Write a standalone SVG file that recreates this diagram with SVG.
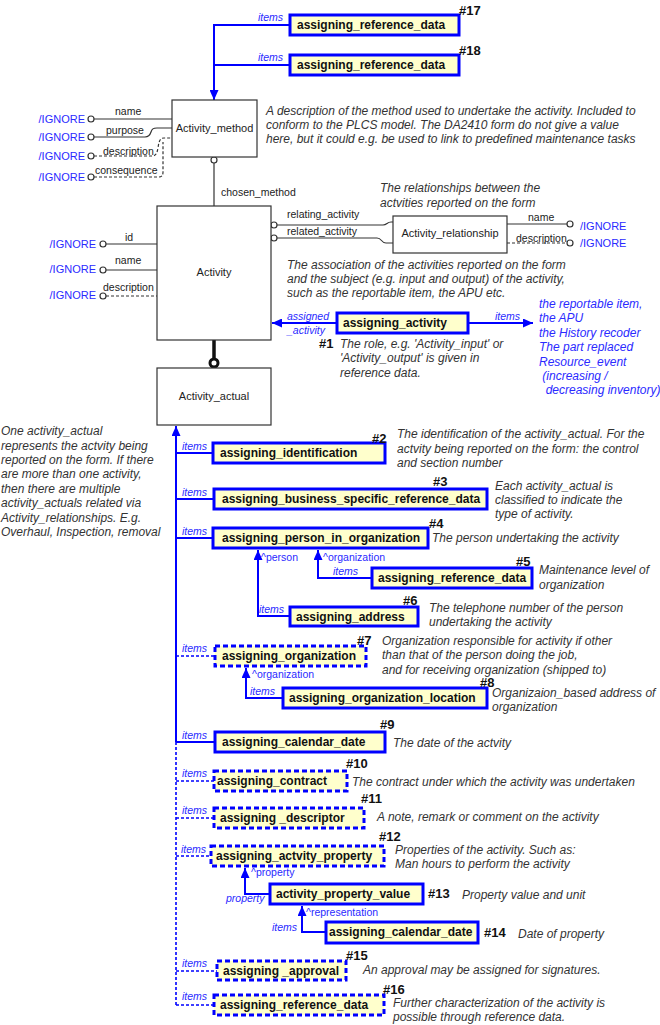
<svg xmlns="http://www.w3.org/2000/svg" width="660" height="1025" viewBox="0 0 660 1025">
<style>
text{font-family:"Liberation Sans",Arial,sans-serif}
.ent{fill:#fff;stroke:#333;stroke-width:1.2}
.en{font-size:11px;fill:#222;text-anchor:middle}
.at{fill:none;stroke:#333;stroke-width:1.2}
.atd{fill:none;stroke:#333;stroke-width:1.2;stroke-dasharray:3 2}
.ci{fill:#fff;stroke:#333;stroke-width:1.2}
.rl{font-size:10.5px;fill:#222}
.ig{font-size:11px;fill:#2a2aff}
.bx{fill:#ffffcc;stroke:#0000ff;stroke-width:3}
.bxd{fill:#ffffcc;stroke:#0000ff;stroke-width:3;stroke-dasharray:5 3}
.bt{font-size:12px;font-weight:bold;fill:#111}
.hn{font-size:13px;font-weight:bold;fill:#111}
.nt{font-size:12px;font-style:italic;fill:#333}
.bl{fill:none;stroke:#0000ff;stroke-width:2}
.bld{fill:none;stroke:#0000ff;stroke-width:1.6;stroke-dasharray:3 2}
.it{font-size:10.5px;font-style:italic;fill:#2a2aff}
.up{font-size:10.5px;fill:#2a2aff}
.bn{font-size:12px;font-style:italic;fill:#2a2aff}
</style>
<defs>
<marker id="arr" markerUnits="userSpaceOnUse" markerWidth="10" markerHeight="9" refX="10" refY="4.5" orient="auto"><path d="M0,0 L10,4.5 L0,9 z" fill="#0000ff"/></marker>
</defs>

<g id="connectors">
<path class="bl" d="M290,25 H214 V100" marker-end="url(#arr)"/>
<path class="bl" d="M290,65 H214"/>
<path class="at" d="M94,119 H172"/>
<path class="at" d="M94,137 H145 C149,137 150,135 151,132 C152,129 153,128 157,128 H172"/>
<path class="atd" d="M94,156 H152 C156,156 157,153 158,148 C159,141 160,138 164,138 H172"/>
<path class="atd" d="M94,177 H159 C162,177 163,175 163,172 V142"/>
<circle class="ci" cx="91" cy="119" r="3"/>
<circle class="ci" cx="91" cy="137" r="3"/>
<circle class="ci" cx="91" cy="156" r="3"/>
<circle class="ci" cx="91" cy="177" r="3"/>
<path class="at" d="M214,163 V206"/>
<circle class="ci" cx="214" cy="160" r="3"/>
<path class="at" d="M106,244 H157"/>
<path class="at" d="M106,270 H157"/>
<path class="atd" d="M106,296 H157"/>
<circle class="ci" cx="103" cy="244" r="3"/>
<circle class="ci" cx="103" cy="270" r="3"/>
<circle class="ci" cx="103" cy="296" r="3"/>
<path class="at" d="M277,225 H383 C387,225 387,222 391,222 H393"/>
<path class="at" d="M277,238 H377 C382,238 381,243 386,243 H393"/>
<circle class="ci" cx="274" cy="225" r="3"/>
<circle class="ci" cx="274" cy="238" r="3"/>
<path class="at" d="M507,224 H567"/>
<path class="atd" d="M507,243 H567"/>
<circle class="ci" cx="570" cy="224" r="3"/>
<circle class="ci" cx="570" cy="243" r="3"/>
<path d="M214,340 V359" fill="none" stroke="#111" stroke-width="3.5"/>
<circle cx="214" cy="363" r="4" fill="#fff" stroke="#111" stroke-width="3"/>
<path class="bl" d="M337,323 H272" marker-end="url(#arr)"/>
<path class="bl" d="M468,323 H533" marker-end="url(#arr)"/>
<path class="bl" d="M176,742 V426" marker-end="url(#arr)"/>
<path class="bld" d="M176,1005 V742"/>
<path class="bl" d="M176,453 H213"/>
<path class="bl" d="M176,499 H214"/>
<path class="bl" d="M176,538 H213"/>
<path class="bld" d="M176,656 H215"/>
<path class="bl" d="M176,742 H215"/>
<path class="bld" d="M176,781 H214"/>
<path class="bld" d="M176,818 H214"/>
<path class="bld" d="M176,856 H211"/>
<path class="bld" d="M176,971 H217"/>
<path class="bld" d="M176,1005 H214"/>
<path class="bl" d="M372,578 H318 V550" marker-end="url(#arr)"/>
<path class="bl" d="M290,616 H258 V550" marker-end="url(#arr)"/>
<path class="bl" d="M283,698 H246 V668" marker-end="url(#arr)"/>
<path class="bl" d="M270,894 H245 V868" marker-end="url(#arr)"/>
<path class="bl" d="M326,932 H302 V906" marker-end="url(#arr)"/>
<text class="it" x="258" y="21">items</text>
<text class="it" x="258" y="61">items</text>
<text class="rl" x="115" y="115">name</text>
<text class="rl" x="106" y="134">purpose</text>
<text class="rl" x="103" y="155">description</text>
<text class="rl" x="95" y="174">consequence</text>
<text class="ig" x="85" y="123" text-anchor="end">/IGNORE</text>
<text class="ig" x="85" y="141" text-anchor="end">/IGNORE</text>
<text class="ig" x="85" y="160" text-anchor="end">/IGNORE</text>
<text class="ig" x="85" y="181" text-anchor="end">/IGNORE</text>
<text class="rl" x="221" y="196">chosen_method</text>
<text class="rl" x="125" y="241">id</text>
<text class="rl" x="115" y="264">name</text>
<text class="rl" x="103" y="291">description</text>
<text class="ig" x="96" y="248" text-anchor="end">/IGNORE</text>
<text class="ig" x="96" y="273" text-anchor="end">/IGNORE</text>
<text class="ig" x="96" y="299" text-anchor="end">/IGNORE</text>
<text class="rl" x="287" y="218">relating_activity</text>
<text class="rl" x="287" y="235">related_activity</text>
<text class="rl" x="528" y="221">name</text>
<text class="rl" x="516" y="242">description</text>
<text class="ig" x="580" y="230">/IGNORE</text>
<text class="ig" x="580" y="247">/IGNORE</text>
<text class="it" x="287" y="320">assigned</text>
<text class="it" x="287" y="334">_activity</text>
<text class="it" x="495" y="320">items</text>
<text class="it" x="182" y="450">items</text>
<text class="it" x="182" y="496">items</text>
<text class="it" x="182" y="535">items</text>
<text class="it" x="182" y="652">items</text>
<text class="it" x="182" y="739">items</text>
<text class="it" x="182" y="777">items</text>
<text class="it" x="182" y="814">items</text>
<text class="it" x="181" y="853">items</text>
<text class="it" x="182" y="967">items</text>
<text class="it" x="182" y="1000">items</text>
<text class="up" x="323" y="561">^organization</text>
<text class="it" x="333" y="575">items</text>
<text class="up" x="261" y="561">^person</text>
<text class="it" x="259" y="613">items</text>
<text class="up" x="252" y="678">^organization</text>
<text class="it" x="250" y="695">items</text>
<text class="up" x="251" y="876">^property</text>
<text class="it" x="226" y="902">property</text>
<text class="up" x="306" y="916">^representation</text>
<text class="it" x="272" y="931">items</text>
</g>

<g id="Activity_method">
<rect class="ent" x="172" y="100" width="85" height="57"/>
<text class="en" x="214.5" y="132">Activity_method</text>
</g>
<g id="Activity">
<rect class="ent" x="157" y="206" width="114" height="134"/>
<text class="en" x="214" y="276">Activity</text>
</g>
<g id="Activity_relationship">
<rect class="ent" x="393" y="216" width="114" height="37"/>
<text class="en" x="450" y="237">Activity_relationship</text>
</g>
<g id="Activity_actual">
<rect class="ent" x="157" y="368" width="114" height="57"/>
<text class="en" x="214" y="400">Activity_actual</text>
</g>

<g id="n17">
<rect class="bx" x="290" y="15" width="169" height="20"/>
<text class="bt" x="297" y="29">assigning_reference_data</text>
<text class="hn" x="459" y="15">#17</text>
</g>
<g id="n18">
<rect class="bx" x="290" y="55" width="169" height="20"/>
<text class="bt" x="297" y="69">assigning_reference_data</text>
<text class="hn" x="459" y="55">#18</text>
</g>
<g id="n1">
<rect class="bx" x="337" y="313" width="131" height="20"/>
<text class="bt" x="343" y="327">assigning_activity</text>
<text class="hn" x="319" y="348">#1</text>
</g>
<g id="n2">
<rect class="bx" x="213" y="443" width="172" height="20"/>
<text class="bt" x="220" y="457">assigning_identification</text>
<text class="hn" x="372" y="443">#2</text>
</g>
<g id="n3">
<rect class="bx" x="214" y="489" width="273" height="20"/>
<text class="bt" x="222" y="503">assigning_business_specific_reference_data</text>
<text class="hn" x="433" y="486">#3</text>
</g>
<g id="n4">
<rect class="bx" x="213" y="528" width="215" height="20"/>
<text class="bt" x="222" y="542">assigning_person_in_organization</text>
<text class="hn" x="429" y="528">#4</text>
</g>
<g id="n5">
<rect class="bx" x="372" y="568" width="160" height="20"/>
<text class="bt" x="378" y="582">assigning_reference_data</text>
<text class="hn" x="516" y="566">#5</text>
</g>
<g id="n6">
<rect class="bx" x="290" y="607" width="128" height="19"/>
<text class="bt" x="296" y="621">assigning_address</text>
<text class="hn" x="403" y="605">#6</text>
</g>
<g id="n7">
<rect class="bxd" x="215" y="646" width="151" height="20"/>
<text class="bt" x="222" y="660">assigning_organization</text>
<text class="hn" x="357" y="645">#7</text>
</g>
<g id="n8">
<rect class="bx" x="283" y="688" width="204" height="20"/>
<text class="bt" x="289" y="702">assigning_organization_location</text>
<text class="hn" x="480" y="687">#8</text>
</g>
<g id="n9">
<rect class="bx" x="215" y="732" width="170" height="20"/>
<text class="bt" x="222" y="746">assigning_calendar_date</text>
<text class="hn" x="380" y="729">#9</text>
</g>
<g id="n10">
<rect class="bxd" x="214" y="771" width="133" height="20"/>
<text class="bt" x="217" y="785">assigning_contract</text>
<text class="hn" x="346" y="768">#10</text>
</g>
<g id="n11">
<rect class="bxd" x="214" y="808" width="150" height="20"/>
<text class="bt" x="220" y="822">assigning _descriptor</text>
<text class="hn" x="361" y="803">#11</text>
</g>
<g id="n12">
<rect class="bxd" x="211" y="846" width="173" height="20"/>
<text class="bt" x="216" y="860">assigning_actvity_property</text>
<text class="hn" x="379" y="841">#12</text>
</g>
<g id="n13">
<rect class="bx" x="270" y="884" width="153" height="20"/>
<text class="bt" x="276" y="898">activity_property_value</text>
<text class="hn" x="428" y="898">#13</text>
</g>
<g id="n14">
<rect class="bx" x="326" y="922" width="152" height="21"/>
<text class="bt" x="329" y="936">assigning_calendar_date</text>
<text class="hn" x="484" y="937">#14</text>
</g>
<g id="n15">
<rect class="bxd" x="217" y="961" width="129" height="19"/>
<text class="bt" x="223" y="975">assigning _approval</text>
<text class="hn" x="346" y="960">#15</text>
</g>
<g id="n16">
<rect class="bxd" x="214" y="995" width="170" height="20"/>
<text class="bt" x="220" y="1009">assigning_reference_data</text>
<text class="hn" x="383" y="994">#16</text>
</g>

<g id="notes">
<text class="nt" x="266" y="115">A description of the method used to undertake the activity. Included to</text>
<text class="nt" x="266" y="129">conform to the PLCS model. The DA2410 form do not give a value</text>
<text class="nt" x="266" y="143">here, but it could e.g. be used to link to predefined maintenance tasks</text>
<text class="nt" x="380" y="192">The relationships between the</text>
<text class="nt" x="380" y="207">actvities reported on the form</text>
<text class="nt" x="287" y="269">The association of the activities reported on the form</text>
<text class="nt" x="287" y="283">and the subject (e.g. input and output) of the activity,</text>
<text class="nt" x="287" y="297">such as the reportable item, the APU etc.</text>
<text class="nt" x="340" y="348">The role, e.g. 'Activity_input' or</text>
<text class="nt" x="340" y="362">'Activity_output' is given in</text>
<text class="nt" x="340" y="377">reference data.</text>
<text class="bn" x="539" y="308">the reportable item,</text>
<text class="bn" x="539" y="322">the APU</text>
<text class="bn" x="539" y="337">the History recoder</text>
<text class="bn" x="539" y="351">The part replaced</text>
<text class="bn" x="539" y="366">Resource_event</text>
<text class="bn" x="539" y="380" xml:space="preserve"> (increasing /</text>
<text class="bn" x="539" y="394" xml:space="preserve">  decreasing inventory)</text>
<text class="nt" x="1" y="435">One activity_actual</text>
<text class="nt" x="1" y="449.5">represents the actvity being</text>
<text class="nt" x="1" y="464">reported on the form. If there</text>
<text class="nt" x="1" y="478">are more than one activity,</text>
<text class="nt" x="1" y="492.5">then there are multiple</text>
<text class="nt" x="1" y="507">activity_actuals related via</text>
<text class="nt" x="1" y="521.5">Activity_relationships. E.g.</text>
<text class="nt" x="1" y="536">Overhaul, Inspection, removal</text>
<text class="nt" x="397" y="438">The identification of the activity_actual. For the</text>
<text class="nt" x="397" y="453">actvity being reported on the form: the control</text>
<text class="nt" x="397" y="467">and section number</text>
<text class="nt" x="495" y="490">Each activity_actual is</text>
<text class="nt" x="495" y="504">classified to indicate the</text>
<text class="nt" x="495" y="518">type of activity.</text>
<text class="nt" x="432" y="542">The person undertaking the activity</text>
<text class="nt" x="539" y="574">Maintenance level of</text>
<text class="nt" x="539" y="589">organization</text>
<text class="nt" x="429" y="612">The telephone number of the person</text>
<text class="nt" x="429" y="626">undertaking the activity</text>
<text class="nt" x="382" y="645">Organization responsible for activity if other</text>
<text class="nt" x="382" y="659">than that of the person doing the job,</text>
<text class="nt" x="382" y="674">and for receiving organization (shipped to)</text>
<text class="nt" x="492" y="697">Organizaion_based address of</text>
<text class="nt" x="492" y="711">organization</text>
<text class="nt" x="393" y="747">The date of the actvity</text>
<text class="nt" x="352" y="786">The contract under which the activity was undertaken</text>
<text class="nt" x="377" y="821">A note, remark or comment on the activity</text>
<text class="nt" x="395" y="854">Properties of the activity. Such as:</text>
<text class="nt" x="395" y="868">Man hours to perform the activity</text>
<text class="nt" x="462" y="899">Property value and unit</text>
<text class="nt" x="518" y="938">Date of property</text>
<text class="nt" x="363" y="974">An approval may be assigned for signatures.</text>
<text class="nt" x="393" y="1007">Further characterization of the activity is</text>
<text class="nt" x="393" y="1021">possible through reference data.</text>
</g>
</svg>
